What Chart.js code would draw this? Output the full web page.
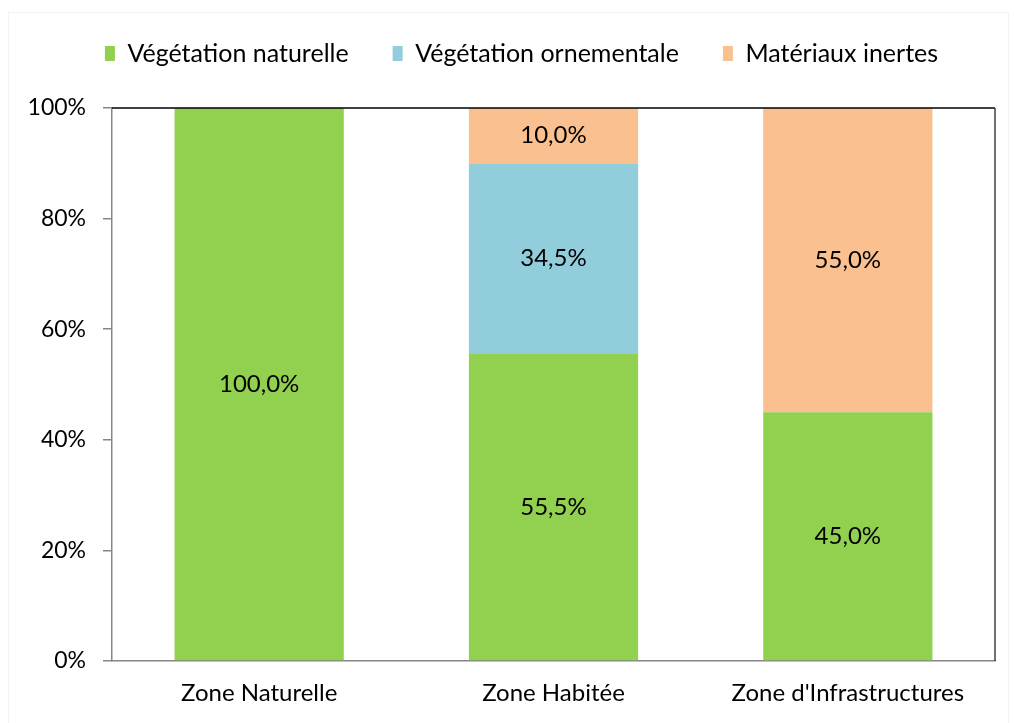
<!DOCTYPE html>
<html lang="fr">
<head>
<meta charset="utf-8">
<script src="https://cdn.jsdelivr.net/npm/chart.js@4"></script>
<style>
  html, body { margin: 0; padding: 0; background: #fff; }
  #wrap { position: relative; width: 1014px; height: 723px; }
</style>
</head>
<body>
<div id="wrap"><canvas id="zones"></canvas></div>
<script>
// Zones et parts de chaque type de couverture (%)
const zones = ['Zone Naturelle', 'Zone Habitée', "Zone d'Infrastructures"];
const vegetationNaturelle = [100.0, 55.5, 45.0];
const vegetationOrnementale = [0, 34.5, 0];
const materiauxInertes = [0, 10.0, 55.0];
const yTicks = [0, 20, 40, 60, 80, 100];

const FONT = 'Lato, "Open Sans", sans-serif';

// étiquettes de valeur au centre de chaque segment
const segmentLabels = {
  id: 'segmentLabels',
  afterDatasetsDraw(chart) {
    const { ctx } = chart;
    ctx.save();
    ctx.fillStyle = '#000';
    ctx.font = '24px ' + FONT;
    ctx.textAlign = 'center';
    ctx.textBaseline = 'middle';
    chart.data.datasets.forEach((ds, i) => {
      chart.getDatasetMeta(i).data.forEach((bar, j) => {
        const v = ds.data[j];
        if (!v) return;
        const yMid = (bar.y + bar.base) / 2;
        ctx.fillText(v.toFixed(1).replace('.', ',') + '%', bar.x, yMid);
      });
    });
    ctx.restore();
  }
};

// légende : hauteur fixe au-dessus du tracé, puis petit décalage
const legendPlacement = {
  id: 'legendPlacement',
  beforeInit(chart) {
    const fit = chart.legend.fit;
    chart.legend.fit = function () {
      fit.call(this);
      this.height = 108;
    };
  },
  afterLayout(chart) {
    const lg = chart.legend;
    lg.left += 24;
    lg.right += 24;
    lg.top -= 3;
    lg.bottom -= 3;
  }
};

// cadre de la zone de tracé + bordure extérieure
const plotFrame = {
  id: 'plotFrame',
  beforeDraw(chart) {
    const { ctx } = chart;
    ctx.save();
    ctx.strokeStyle = '#f3f3f3';
    ctx.lineWidth = 1;
    ctx.strokeRect(8.5, 12.5, 1000, 720);
    ctx.restore();
  },
  afterDraw(chart) {
    const { ctx, chartArea: { left, right, top, bottom } } = chart;
    ctx.save();
    ctx.lineWidth = 1.5;
    ctx.strokeStyle = '#000';
    ctx.beginPath();
    ctx.moveTo(left, top);
    ctx.lineTo(right, top);
    ctx.stroke();
    ctx.strokeStyle = '#404040';
    ctx.beginPath();
    ctx.moveTo(right, top);
    ctx.lineTo(right, bottom);
    ctx.stroke();
    ctx.restore();
  }
};

new Chart(document.getElementById('zones'), {
  type: 'bar',
  data: {
    labels: zones,
    datasets: [
      { label: 'Végétation naturelle', data: vegetationNaturelle, backgroundColor: '#92D050' },
      { label: 'Végétation ornementale', data: vegetationOrnementale, backgroundColor: '#92CDDC' },
      { label: 'Matériaux inertes', data: materiauxInertes, backgroundColor: '#FAC090' }
    ]
  },
  options: {
    responsive: true,
    maintainAspectRatio: false,
    animation: false,
    events: [],
    datasets: { bar: { barPercentage: 0.575, categoryPercentage: 1 } },
    layout: { padding: { top: 0, right: 19, bottom: 0, left: 0 } },
    plugins: {
      tooltip: { enabled: false },
      legend: {
        position: 'top',
        labels: {
          color: '#000',
          font: { family: FONT, size: 25 },
          boxWidth: 10,
          boxHeight: 15,
          padding: 44
        }
      }
    },
    scales: {
      x: {
        stacked: true,
        grid: { display: false, drawTicks: false },
        border: { color: '#868686', width: 1.5 },
        ticks: { color: '#000', font: { family: FONT, size: 24 }, padding: 18 },
        afterFit: s => { s.height = 62; }
      },
      y: {
        stacked: true,
        min: 0,
        max: 100,
        afterBuildTicks: s => { s.ticks = yTicks.map(v => ({ value: v })); },
        grid: { drawOnChartArea: false, drawTicks: true, tickLength: 9, color: '#868686', lineWidth: 1.5 },
        border: { color: '#868686', width: 1.5 },
        ticks: {
          color: '#000',
          font: { family: FONT, size: 23 },
          padding: 17,
          callback: v => v + '%'
        },
        afterFit: s => { s.width = 112; }
      }
    }
  },
  plugins: [legendPlacement, segmentLabels, plotFrame]
});
</script>
</body>
</html>
